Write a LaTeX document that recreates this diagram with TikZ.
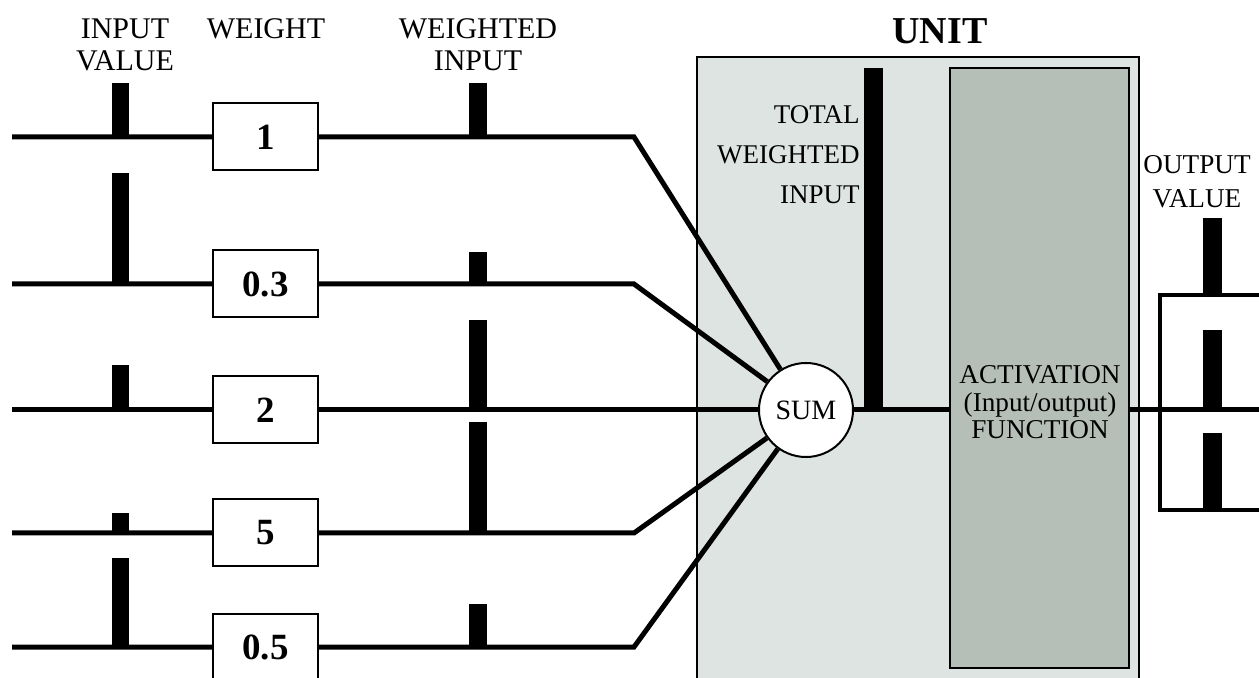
\documentclass[tikz,border=0pt]{standalone}
\usepackage{fontspec}
\setmainfont{Liberation Serif}
\usetikzlibrary{calc}
\definecolor{unitgray}{RGB}{221,228,225}
\definecolor{actgray}{RGB}{181,191,184}

\begin{document}
\begin{tikzpicture}[x=0.5pt,y=-0.5pt,
    wire/.style={line width=2.5pt},
    weightbox/.style={draw,line width=1pt,fill=white,minimum width=52.5pt,
      minimum height=33.5pt,inner sep=0pt,font=\fontsize{18.5}{20}\selectfont\bfseries},
    sumnode/.style={circle,draw,line width=1pt,fill=white,minimum size=47pt,
      inner sep=0pt,font=\fontsize{14}{15}\selectfont},
    actbox/.style={draw,line width=0.6pt,fill=actgray,minimum width=89.5pt,
      minimum height=300pt,inner sep=0pt},
    head/.style={inner sep=0pt,align=center,anchor=north,font=\fontsize{15}{16}\selectfont}]
  \useasboundingbox (0,0) rectangle (1259,678);
  \clip (0,0) rectangle (1259,678);

  % The unit: light panel with the darker activation block inside.
  \fill[unitgray] (697,57) rectangle (1139,700);
  \draw[line width=0.7pt] (697,700) -- (697,57) -- (1139,57) -- (1139,700);
  \node[actbox] (act) at (1039.5,368) {};

  % Weights on the five input lines.
  \foreach \i/\y/\w in {1/137/1, 2/284/0.3, 3/410/2, 4/533/5, 5/647/0.5} {
    \coordinate (s\i) at (12,\y);
    \node[weightbox] (w\i) at (265.5,\y) {\w};
  }
  \foreach \i/\y in {1/137, 2/284, 4/533, 5/647}
    \coordinate (b\i) at (634,\y);

  \node[sumnode] (sum) at (806,410) {SUM};

  % Input lines run into the summing node.
  \foreach \i in {1,2,4,5}
    \draw[wire,line join=miter] (s\i) -- (w\i) -- (b\i) -- (sum);
  \draw[wire] (s3) -- (w3) -- (sum);

  % Bars: input value and weighted input on each line.
  \foreach \y/\a/\b in {137/54/54, 284/111/32, 410/45/90, 533/20/111, 647/89/43} {
    \fill (112,\y) rectangle (129,\y-\a);
    \fill (469,\y) rectangle (487,\y-\b);
  }

  % Total weighted input and the line on to the output.
  \fill (864,68) rectangle (883,410);
  \draw[wire] (sum) -- (sum -| act.west);
  \coordinate (out) at (1270,410);
  \draw[wire] (sum -| act.east) -- (out);

  % Output value.
  \draw[line width=2pt] (1160,295) rectangle (1290,510);
  \fill (1203,218) rectangle (1222,295);
  \fill (1203,330) rectangle (1222,410);
  \fill (1203,433) rectangle (1222,510);

  % Labels.
  \node[head] (invalue) at (125,18) {INPUT\\VALUE};
  \node[head] (weight) at (266,18) {WEIGHT};
  \node[head] (winput) at (478,18) {WEIGHTED\\INPUT};
  \node[head,font=\fontsize{19}{20}\selectfont\bfseries] (unit) at (940,18) {UNIT};
  \node[inner sep=0pt,anchor=north east,align=right,font=\fontsize{13.5}{20}\selectfont]
    (total) at (860,105) {TOTAL\\WEIGHTED\\INPUT};
  \node[head,font=\fontsize{13.6}{13.8}\selectfont]
    (actlabel) at (1040,365) {ACTIVATION\\(Input/output)\\FUNCTION};
  \node[head,font=\fontsize{13.6}{17}\selectfont] (outvalue) at (1197,155) {OUTPUT\\VALUE};
\end{tikzpicture}
\end{document}
